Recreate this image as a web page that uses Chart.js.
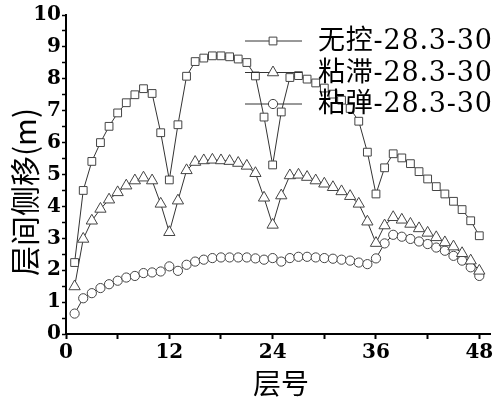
<!DOCTYPE html>
<html>
<head>
<meta charset="utf-8">
<script src="https://cdn.jsdelivr.net/npm/chart.js@4"></script>
<style>
  html, body { margin: 0; padding: 0; background: #fff; }
  #wrap { width: 498px; height: 402px; }
</style>
</head>
<body>
<div id="wrap"><canvas id="myChart"></canvas></div>
<script>
// floor numbers 1..48
const floors = [1,2,3,4,5,6,7,8,9,10,11,12,13,14,15,16,17,18,19,20,21,22,23,24,
  25,26,27,28,29,30,31,32,33,34,35,36,37,38,39,40,41,42,43,44,45,46,47,48];

const uncontrolled = [2.24,4.5,5.41,6.0,6.51,6.93,7.25,7.5,7.69,7.54,6.31,4.83,
  6.56,8.08,8.54,8.65,8.72,8.72,8.69,8.62,8.51,8.09,6.8,5.3,
  6.96,8.04,8.1,7.99,7.87,7.71,7.52,7.33,7.07,6.67,5.7,4.39,
  5.21,5.65,5.52,5.34,5.09,4.86,4.62,4.39,4.16,3.9,3.55,3.08];

const viscous = [1.49,2.98,3.55,3.92,4.21,4.44,4.65,4.81,4.9,4.81,4.08,3.19,
  4.18,5.13,5.39,5.44,5.46,5.44,5.42,5.36,5.27,5.04,4.27,3.42,
  4.34,4.97,4.99,4.92,4.81,4.71,4.6,4.47,4.32,4.08,3.52,2.85,
  3.4,3.66,3.58,3.45,3.31,3.17,3.03,2.87,2.74,2.53,2.3,1.98];

const viscoelastic = [0.64,1.12,1.28,1.44,1.56,1.67,1.77,1.82,1.91,1.93,1.96,2.12,
  1.98,2.17,2.27,2.33,2.38,2.4,2.4,2.4,2.4,2.37,2.33,2.38,
  2.27,2.38,2.42,2.42,2.4,2.38,2.36,2.33,2.3,2.24,2.19,2.37,
  2.84,3.11,3.05,2.98,2.9,2.82,2.71,2.61,2.45,2.3,2.09,1.82];

const seriesNames = ["无控-28.3-30", "粘滞-28.3-30", "粘弹-28.3-30"];
const xTicks = [0, 6, 12, 18, 24, 30, 36, 42, 48];
const xTitle = "层号";
const yTitle = "层间侧移(m)";

const lineColor = "#333333";
const markColor = "#444444";

function series(label, values, style, radius) {
  return {
    label: label,
    data: floors.map((f, i) => ({ x: f, y: values[i] })),
    borderColor: lineColor,
    borderWidth: 1,
    pointStyle: style,
    pointRadius: radius,
    pointBorderColor: markColor,
    pointBackgroundColor: "#ffffff",
    pointBorderWidth: 1,
    tension: 0,
  };
}

const data = {
  datasets: [
    series(seriesNames[0], uncontrolled, "rect", 5.5),
    series(seriesNames[1], viscous, "triangle", 6.5),
    series(seriesNames[2], viscoelastic, "circle", 4.6),
  ],
};

// legend with line through marker, plus axis titles
const decorations = {
  id: "decorations",
  afterDraw(chart) {
    const ctx = chart.ctx;
    ctx.save();
    chart.data.datasets.forEach((ds, i) => {
      const y = 41 + i * 31.5;
      ctx.strokeStyle = lineColor;
      ctx.lineWidth = 1;
      ctx.beginPath();
      ctx.moveTo(245, y);
      ctx.lineTo(302, y);
      ctx.stroke();
      ctx.fillStyle = "#ffffff";
      ctx.strokeStyle = markColor;
      Chart.helpers.drawPoint(ctx, {
        pointStyle: ds.pointStyle, radius: ds.pointRadius, rotation: 0, borderWidth: 1,
      }, 273, y);
      ctx.fillStyle = "#000";
      ctx.font = "27px 'DejaVu Serif', 'Noto Sans CJK SC'";
      ctx.letterSpacing = "0.8px";
      ctx.textAlign = "left";
      ctx.textBaseline = "middle";
      ctx.fillText(ds.label, 318, y + 1);
    });
    ctx.letterSpacing = "0px";

    ctx.fillStyle = "#000";
    ctx.font = "28px 'Noto Sans CJK SC'";
    ctx.textAlign = "center";
    ctx.textBaseline = "middle";
    ctx.fillText(xTitle, 281, 383);

    ctx.font = "30px 'Noto Sans CJK SC'";
    ctx.translate(25, 192);
    ctx.rotate(-Math.PI / 2);
    ctx.fillText(yTitle, 0, 0);
    ctx.restore();
  },
};

const tickFont = { family: "'DejaVu Serif'", size: 20, weight: "bold" };

const config = {
  type: "line",
  data: data,
  options: {
    responsive: false,
    animation: false,
    layout: { padding: { top: 15, right: 0, left: 0, bottom: 0 } },
    plugins: {
      legend: { display: false },
      tooltip: { enabled: false },
    },
    scales: {
      x: {
        type: "linear",
        min: 0,
        max: 49.3,
        afterBuildTicks: (scale) => {
          scale.ticks = xTicks.map((v) => ({ value: v }));
        },
        afterFit: (scale) => {
          scale.height = 68;
          scale.paddingLeft = 0;
          scale.paddingRight = 0;
        },
        ticks: {
          autoSkip: false,
          maxRotation: 0,
          color: "#000",
          font: tickFont,
          padding: 2,
          callback: (v) => (v % 12 === 0 ? String(v) : ""),
        },
        grid: {
          drawOnChartArea: false,
          tickLength: 5,
          tickWidth: 2,
          color: "#000",
        },
        border: { display: true, color: "#000", width: 2 },
      },
      y: {
        min: 0,
        max: 10,
        afterBuildTicks: (scale) => {
          const t = [];
          for (let v = 0; v <= 20; v++) t.push({ value: v / 2 });
          scale.ticks = t;
        },
        afterFit: (scale) => {
          scale.width = 66;
          scale.paddingTop = 0;
          scale.paddingBottom = 0;
        },
        ticks: {
          autoSkip: false,
          color: "#000",
          font: tickFont,
          padding: 1,
          callback: (v) => (Number.isInteger(v) ? String(v) : ""),
        },
        grid: {
          drawOnChartArea: false,
          tickLength: 4,
          tickWidth: 1.5,
          color: "#000",
        },
        border: { display: true, color: "#000", width: 2 },
      },
    },
  },
  plugins: [decorations],
};

const canvas = document.getElementById("myChart");
canvas.width = 498;
canvas.height = 402;
const myChart = new Chart(canvas, config);
</script>
</body>
</html>
